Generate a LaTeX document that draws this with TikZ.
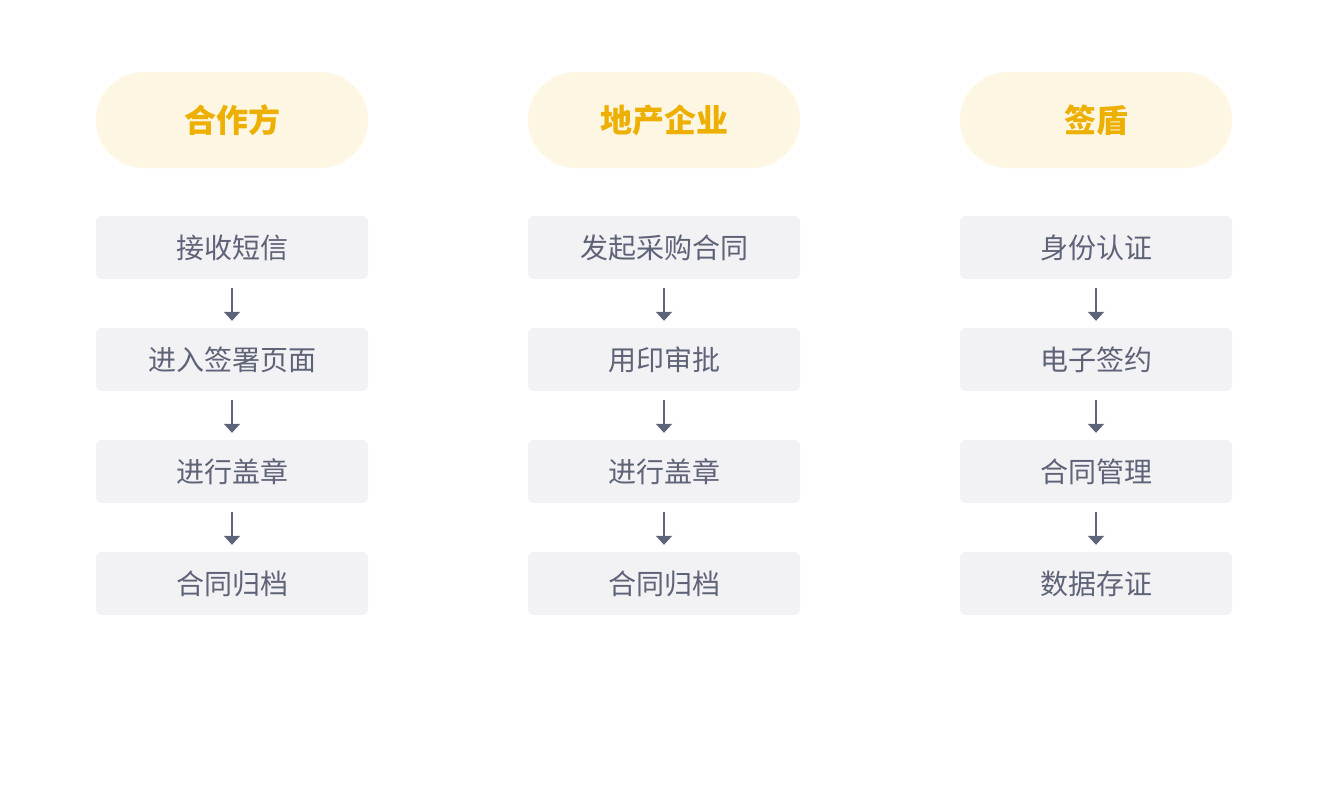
\documentclass[tikz,border=0pt]{standalone}
\usepackage{fontspec}
\newfontfamily\cjk{Noto Sans CJK SC}
\usetikzlibrary{arrows.meta}
\definecolor{pillbg}{HTML}{FCF6E3}
\definecolor{pilltext}{HTML}{EEB000}
\definecolor{stepbg}{HTML}{F2F2F5}
\definecolor{steptext}{HTML}{5F6377}

\tikzset{
    party/.style={fill=pillbg, rounded corners=48pt, minimum width=272pt, minimum height=96pt,
        inner sep=0pt, text=pilltext, font=\cjk\bfseries\fontsize{32}{32}\selectfont},
    stepbox/.style={fill=stepbg, rounded corners=5pt, minimum width=272pt, minimum height=63pt,
        inner sep=0pt, text=steptext, font=\cjk\fontsize{28}{28}\selectfont},
    flow/.style={draw=steptext, line width=2pt, -{Triangle[width=16pt,length=9pt]}}
}

\begin{document}
\begin{tikzpicture}[x=1pt,y=-1pt]
        \useasboundingbox (0,0) rectangle (1328,804);

        % parties
        \node[party] (p0) at (232,120) {合作方};
        \node[party] (q0) at (664,120) {地产企业};
        \node[party] (r0) at (1096,120) {签盾};

        % steps
        \foreach \n/\y/\a/\b/\c in {1/247.5/接收短信/发起采购合同/身份认证,
                                    2/359.5/进入签署页面/用印审批/电子签约,
                                    3/471.5/进行盖章/进行盖章/合同管理,
                                    4/583.5/合同归档/合同归档/数据存证}
        {
            \node[stepbox] (p\n) at (232,\y) {\a};
            \node[stepbox] (q\n) at (664,\y) {\b};
            \node[stepbox] (r\n) at (1096,\y) {\c};
        }

        % arrows
        \foreach \col in {p,q,r}
            \foreach \i/\j in {1/2,2/3,3/4}
                \draw[flow] ([yshift=-9pt]\col\i.south) -- ([yshift=7pt]\col\j.north);

    \end{tikzpicture}
\end{document}
